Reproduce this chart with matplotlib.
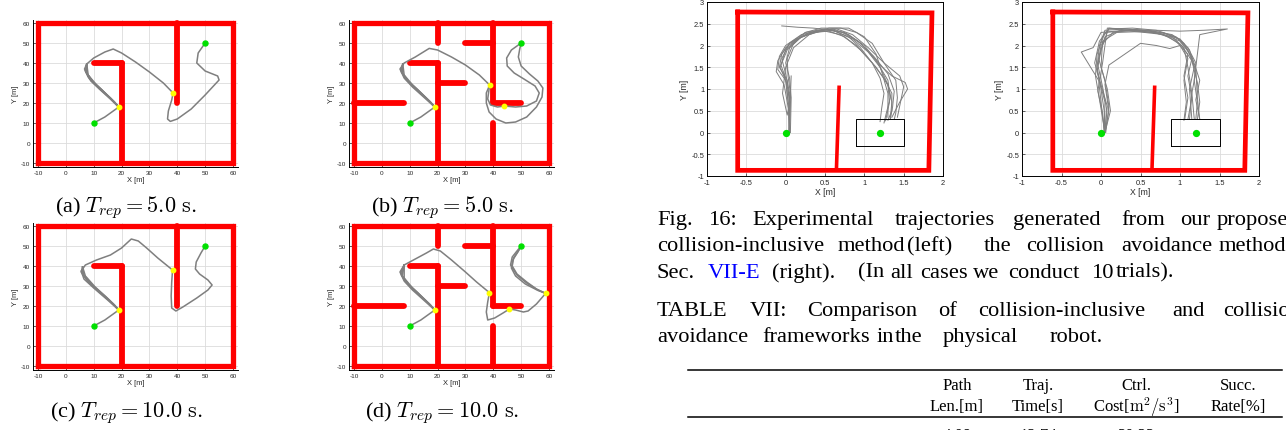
import numpy as np
import matplotlib
matplotlib.use("Agg")
import matplotlib.pyplot as plt

plt.rcParams["axes.unicode_minus"] = False
plt.rcParams["mathtext.fontset"] = "cm"

W, H = 1286, 431

# ---------------- simulation maps (left block) ----------------
walls_simple = [  # (x0, y0, x1, y1)
    (10, 40, 20, 40), (20, 40, 20, -10), (40, 60, 40, 20),
]
walls_maze = [
    (20, 60, 20, 50), (10, 40, 20, 40), (20, 40, 20, -10), (20, 30, 30, 30),
    (-10, 20, 8, 20), (30, 50, 40, 50), (40, 60, 40, 20), (40, 20, 50, 20),
    (40, 10, 40, -10),
]
border_x = [-10, 60, 60, -10, -10]
border_y = [-10, -10, 60, 60, -10]
start_xy = (10, 10)
goal_xy = (50, 50)

# (a) simple map, T_rep = 5 s
traj_a = [
    ([10, 14, 19, 16, 12, 9, 7, 7.5, 10, 14, 17, 20, 25, 30, 35, 38.5, 38, 36.8, 36.5,
      37.5, 40, 45, 50, 55, 54.5, 50, 47, 47.5, 49, 50],
     [10, 13, 18, 22, 27, 31, 36, 39.5, 42.5, 45.5, 47, 45, 40.5, 35.5, 30, 25, 21.5, 16,
      12, 10.8, 12, 17, 24, 31.5, 33.5, 36, 40, 45, 48, 50]),
    ([19, 15.5, 11.5, 8.5, 7, 7.5], [18, 23, 28, 32, 36.5, 39.5]),
    ([19, 15, 11, 8, 6.7, 7.5], [18, 23.5, 29, 33, 37, 39.5]),
    ([19, 17, 13.5, 10, 7.5, 7.5], [18, 21, 25.5, 30, 35, 39.5]),
    ([19, 16.5, 13, 9.5, 7.2, 7.5], [18, 21.5, 26.5, 31, 35.5, 39.5]),
    ([19, 17.5, 14.5, 11, 8, 7.5], [18, 20.5, 24.5, 29, 34, 39.5]),
    ([19, 16, 12, 9, 7.1, 7.5], [18, 22.5, 27.5, 31.5, 36, 39.5]),
]
hits_a = ([19, 38.5], [18, 25])

# (b) maze map, T_rep = 5 s
traj_b = [
    ([10, 14, 19, 15, 11, 8, 6.5, 8, 12, 17, 20, 25, 30, 35, 38.7, 37.5, 37.5, 38.5, 41,
      44.5, 48, 52, 55.5, 57.5, 57.8, 56, 53, 50, 49, 49.5, 50],
     [10, 13, 18, 23, 28, 32.5, 37, 40, 43, 47.3, 46.5, 43, 39, 34, 29, 25, 20, 15.5, 12,
      10, 10.5, 13, 18, 23, 27.5, 31, 34.5, 38.5, 43, 47, 50]),
    ([38.7, 38, 39, 41.5, 44, 48, 52, 55.5, 56.5, 55, 51, 47.5, 45, 44.8, 46.5, 50],
     [29, 22, 19, 18, 18.5, 18, 18.5, 21, 25, 28.5, 32, 35, 38.5, 42.5, 46.5, 50]),
    ([19, 15.5, 11.5, 8.5, 6.8, 7.5], [18, 23, 28, 32, 36.5, 39.5]),
    ([19, 17, 13.5, 10, 7.3, 7.5], [18, 21, 25.5, 30, 35, 39.5]),
    ([19, 16.5, 13, 9.5, 7, 7.5], [18, 21.5, 26.5, 31, 35.5, 39.5]),
    ([19, 17.5, 14.5, 11, 8, 7.5], [18, 20.5, 24.5, 29, 34, 39.5]),
]
hits_b = ([19, 38.7, 44], [18, 29, 18.5])

# (c) simple map, T_rep = 10 s
traj_c = [
    ([10, 14, 19, 15, 10, 6.5, 5.5, 7, 11, 16, 20, 23.5, 26, 29, 33, 38.3, 38, 37.8, 38,
      39.5, 42, 47, 51, 52.5, 51, 48, 46.5, 46.8, 48.5, 50],
     [10, 13, 18, 23, 29, 33.5, 37.5, 40.5, 43, 45.5, 49, 53.5, 52.5, 49, 44, 38, 32, 25,
      19, 17.5, 19.5, 24, 28, 30.5, 33, 36, 38.5, 42, 46.5, 50]),
    ([19, 15.5, 11, 7.5, 5.5, 6], [18, 23, 28.5, 33, 37, 39.5]),
    ([19, 16.5, 12.5, 8.5, 6, 6], [18, 21.5, 26.5, 31.5, 36, 39.5]),
    ([19, 17, 13.5, 9.5, 6.5, 6], [18, 21, 25.5, 30.5, 35.5, 39.5]),
    ([19, 17.5, 14.5, 10.5, 7, 6], [18, 20.5, 24.5, 29.5, 35, 39.5]),
]
hits_c = ([19, 38.3], [18, 38])

# (d) maze map, T_rep = 10 s
traj_d = [
    ([10, 14, 19, 15, 11, 8, 6.5, 8, 12, 16, 18.5, 21, 25, 30, 34, 38.6, 38, 37.5, 38,
      40.5, 43.5, 45.8, 48, 50.8, 52.5, 55.5, 58.8, 56, 52, 48.5, 46.2, 46.8, 48.5, 50],
     [10, 13, 18, 23, 28, 32.5, 37, 40.5, 43.5, 46.5, 48.5, 47.5, 43, 37, 32, 26.7, 22,
      17, 13, 14, 16.5, 18.5, 18, 17, 17.5, 21, 26.3, 28, 31.5, 35.5, 40.5, 44.5, 47.5, 50]),
    ([58.8, 55.5, 52, 48.5, 46.8, 47.3, 49, 50], [26.3, 28.5, 32, 36, 40, 44, 47.5, 50]),
    ([58.8, 56, 51.5, 48, 46.5, 47, 48.8, 50], [26.3, 27.8, 31, 35, 39, 43, 47, 50]),
    ([19, 15.5, 11.5, 8.5, 6.8, 8], [18, 23, 28, 32, 36.5, 40.5]),
    ([19, 17, 13.5, 10, 7.3, 8], [18, 21, 25.5, 30, 35, 40.5]),
    ([19, 16.5, 13, 9.5, 7, 8], [18, 21.5, 26.5, 31, 35.5, 40.5]),
    ([19, 17.5, 14.5, 11, 8, 8], [18, 20.5, 24.5, 29, 34, 40.5]),
]
hits_d = ([19, 38.6, 45.8, 58.8], [18, 26.7, 18.5, 26.3])

sim_ticks = [-10, 0, 10, 20, 30, 40, 50, 60]
sim_captions = [r"(a) $T_{rep} = 5.0\ \mathrm{s.}$", r"(b) $T_{rep} = 5.0\ \mathrm{s.}$",
                r"(c) $T_{rep} = 10.0\ \mathrm{s.}$", r"(d) $T_{rep} = 10.0\ \mathrm{s.}$"]

# ---------------- physical robot (right block) ----------------
room_x = [-0.61, 1.86, 1.82, -0.61, -0.61]
room_y = [2.77, 2.75, -0.87, -0.87, 2.77]
inner_wall_x = [0.68, 0.645]
inner_wall_y = [1.08, -0.87]
goal_box_x = [0.89, 1.51, 1.51, 0.89, 0.89]
goal_box_y = [-0.32, -0.32, 0.31, 0.31, -0.32]
robot_pts_x = [0.0, 1.2]
robot_pts_y = [0.0, 0.0]

# collision-inclusive, 10 trials
trials_incl = [
    ([0.04, 0.05, 0.02, -0.08, -0.05, 0.05, 0.25, 0.5, 0.75, 0.95, 1.15, 1.3, 1.33, 1.28, 1.25],
     [0.0, 0.6, 1.2, 1.5, 1.8, 2.05, 2.3, 2.38, 2.3, 2.05, 1.65, 1.2, 0.8, 0.45, 0.22]),
    ([0.05, 0.03, 0.0, -0.1, -0.08, 0.0, 0.2, 0.45, 0.7, 0.9, 1.1, 1.25, 1.35, 1.35, 1.3],
     [0.0, 0.7, 1.2, 1.45, 1.75, 2.0, 2.25, 2.35, 2.25, 2.0, 1.6, 1.25, 0.9, 0.5, 0.28]),
    ([0.06, 0.07, 0.05, 0.0, 0.05, 0.2, 0.4, 0.65, 0.85, 1.05, 1.25, 1.4, 1.42, 1.4, 1.38],
     [0.0, 0.8, 1.25, 1.6, 1.95, 2.2, 2.35, 2.38, 2.25, 1.95, 1.6, 1.2, 0.8, 0.45, 0.3]),
    ([0.05, 0.05, 0.0, -0.05, 0.05, 0.3, 0.6, 0.8, 1.0, 1.2, 1.35, 1.52, 1.55, 1.45, 1.35],
     [0.0, 0.9, 1.35, 1.7, 2.05, 2.3, 2.38, 2.25, 2.0, 1.55, 1.3, 1.15, 1.0, 0.7, 0.35]),
    ([-0.05, 0.15, 0.35, 0.6, 0.8, 0.95, 1.1, 1.2, 1.25, 1.22, 1.2],
     [2.45, 2.42, 2.4, 2.35, 2.2, 1.95, 1.6, 1.25, 0.9, 0.55, 0.25]),
    ([0.07, 0.06, 0.02, -0.04, 0.0, 0.1, 0.3, 0.55, 0.8, 1.0, 1.15, 1.22, 1.3, 1.3],
     [1.3, 0.8, 0.4, 0.9, 1.5, 1.95, 2.25, 2.4, 2.4, 2.2, 1.8, 1.4, 0.9, 0.35]),
    ([0.05, 0.04, -0.02, -0.12, -0.1, 0.0, 0.15, 0.35, 0.55, 0.75, 0.95, 1.15, 1.3, 1.35, 1.33],
     [0.0, 0.5, 1.1, 1.4, 1.65, 1.95, 2.15, 2.3, 2.33, 2.2, 1.9, 1.5, 1.1, 0.7, 0.32]),
    ([0.05, 0.06, 0.03, 0.02, 0.1, 0.25, 0.45, 0.7, 0.9, 1.1, 1.25, 1.45, 1.5, 1.42],
     [0.0, 0.9, 1.3, 1.7, 2.05, 2.3, 2.4, 2.4, 2.3, 2.05, 1.6, 1.3, 1.05, 0.35]),
    ([0.04, 0.06, 0.01, -0.07, 0.0, 0.15, 0.35, 0.6, 0.85, 1.05, 1.2, 1.3, 1.32, 1.27],
     [0.0, 0.7, 1.15, 1.5, 1.9, 2.15, 2.3, 2.35, 2.15, 1.85, 1.5, 1.1, 0.7, 0.27]),
    ([0.05, 0.04, 0.0, -0.06, 0.02, 0.2, 0.5, 0.72, 0.92, 1.12, 1.3, 1.38, 1.36, 1.33],
     [0.0, 0.6, 1.25, 1.55, 1.9, 2.2, 2.36, 2.3, 2.1, 1.75, 1.35, 0.95, 0.6, 0.3]),
]

# collision avoidance, 10 trials
trials_avoid = [
    ([0.05, 0.04, 0.0, -0.05, -0.02, 0.05, 0.3, 0.6, 0.9, 1.05, 1.15, 1.1, 1.15, 1.1],
     [0.0, 0.5, 1.0, 1.5, 2.0, 2.35, 2.38, 2.35, 2.25, 2.05, 1.7, 1.3, 0.8, 0.3]),
    ([0.05, 0.08, 0.0, -0.08, -0.02, 0.1, 0.4, 0.7, 0.95, 1.1, 1.2, 1.18, 1.22, 1.2],
     [0.0, 0.6, 1.1, 1.6, 2.1, 2.38, 2.4, 2.35, 2.2, 1.95, 1.6, 1.2, 0.7, 0.3]),
    ([0.05, 0.02, -0.03, -0.25, -0.1, 0.0, 0.3, 0.7, 1.0, 1.3, 1.6, 1.25, 1.2, 1.22, 1.25],
     [0.0, 0.38, 1.2, 1.85, 1.95, 2.3, 2.35, 2.35, 2.33, 2.35, 2.38, 2.25, 1.5, 0.8, 0.3]),
    ([0.05, 0.1, 0.05, 0.1, 0.3, 0.5, 0.7, 0.87, 1.0, 1.1, 1.05, 1.08, 1.05],
     [0.0, 0.5, 1.1, 1.55, 1.8, 2.05, 2.0, 1.93, 2.0, 1.7, 1.2, 0.7, 0.28]),
    ([0.04, 0.05, -0.05, 0.0, 0.1, 0.35, 0.65, 0.9, 1.05, 1.1, 1.15, 1.12],
     [0.0, 0.7, 1.4, 1.9, 2.4, 2.35, 2.3, 2.2, 1.95, 1.5, 0.9, 0.3]),
    ([0.06, 0.1, 0.05, -0.03, 0.05, 0.25, 0.55, 0.8, 1.0, 1.15, 1.25, 1.2, 1.25],
     [0.0, 0.6, 1.2, 1.7, 2.2, 2.35, 2.3, 2.25, 2.1, 1.75, 1.2, 0.75, 0.3]),
    ([0.05, 0.0, -0.07, -0.05, 0.05, 0.4, 0.75, 0.95, 1.1, 1.05, 1.1, 1.06],
     [0.0, 0.55, 1.3, 1.8, 2.3, 2.35, 2.28, 2.1, 1.8, 1.3, 0.8, 0.3]),
    ([0.05, 0.12, 0.08, 0.0, 0.02, 0.2, 0.5, 0.8, 1.0, 1.12, 1.2, 1.15, 1.18],
     [0.0, 0.5, 1.0, 1.5, 2.1, 2.3, 2.32, 2.28, 2.15, 1.9, 1.4, 0.9, 0.32]),
    ([0.04, 0.02, -0.04, 0.02, 0.08, 0.3, 0.62, 0.85, 1.02, 1.15, 1.22, 1.25, 1.22],
     [0.0, 0.45, 0.95, 1.6, 2.4, 2.38, 2.33, 2.2, 2.0, 1.65, 1.15, 0.7, 0.3]),
    ([0.05, 0.07, 0.02, -0.04, 0.0, 0.15, 0.45, 0.78, 0.98, 1.1, 1.18, 1.12, 1.15],
     [0.0, 0.55, 1.05, 1.55, 2.0, 2.3, 2.36, 2.3, 2.15, 1.9, 1.5, 1.0, 0.3]),
]
robot_ticks_x = [-1, -0.5, 0, 0.5, 1, 1.5, 2]
robot_ticks_y = [-1, -0.5, 0, 0.5, 1, 1.5, 2, 2.5, 3]

# table header
tab_cols = [("Path", "Len.[m]"), ("Traj.", "Time[s]"),
            ("Ctrl.", r"Cost[$\mathrm{m}^2/\mathrm{s}^3$]"), ("Succ.", "Rate[%]")]
tab_first_row = ["4.09", "12.74", "30.33"]

GRAY = "#7f7f7f"
INK = "#262626"
SERIF = "Liberation Serif"
SANS = "Liberation Sans"


def px_axes(fig, l, t, r, b):
    return fig.add_axes([l / W, 1 - b / H, (r - l) / W, (b - t) / H])


def ftext(fig, x, y, s, **kw):
    kw.setdefault("va", "center")
    return fig.text(x / W, 1 - y / H, s, **kw)


def style_axes(ax, ticks_x, ticks_y, fs, box):
    ax.set_xticks(ticks_x)
    ax.set_yticks(ticks_y)
    ax.set_xticklabels([f"{v:g}" for v in ticks_x])
    ax.set_yticklabels([f"{v:g}" for v in ticks_y])
    ax.tick_params(direction="in", length=2, width=0.5, labelsize=fs, colors=INK, pad=2)
    ax.grid(True, color="#dcdcdc", lw=0.6)
    ax.set_axisbelow(True)
    for side, sp in ax.spines.items():
        sp.set_color("black")
        sp.set_linewidth(0.7)
        if not box and side in ("top", "right"):
            sp.set_visible(False)
    for lab in ax.get_xticklabels() + ax.get_yticklabels():
        lab.set_fontfamily(SANS)


def draw_sim(ax, walls, trajs, hits):
    ax.plot(border_x, border_y, color="red", lw=3.8, solid_joinstyle="miter")
    for x0, y0, x1, y1 in walls:
        ax.plot([x0, x1], [y0, y1], color="red", lw=4.2, solid_capstyle="round")
    for tx, ty in trajs:
        ax.plot(tx, ty, color=GRAY, lw=1.1)
    ax.plot(*zip(start_xy, goal_xy), ls="none", marker="o", ms=3.6, color="#00e000")
    ax.plot(hits[0], hits[1], ls="none", marker="o", ms=3.2, color="#ffff00")
    ax.set_xlim(-11.8, 61.8)
    ax.set_ylim(-12, 61.5)
    style_axes(ax, sim_ticks, sim_ticks, 4.6, box=False)
    ax.set_xlabel("X [m]", fontsize=5.4, family=SANS, color=INK, labelpad=1)
    ax.set_ylabel("Y [m]", fontsize=5.4, family=SANS, color=INK, labelpad=1)


def draw_robot(ax, trials):
    ax.plot(room_x, room_y, color="red", lw=3.4, solid_joinstyle="miter")
    ax.plot(inner_wall_x, inner_wall_y, color="red", lw=2.6, solid_capstyle="butt")
    for tx, ty in trials:
        ax.plot(tx, ty, color=GRAY, lw=0.7)
    ax.plot(goal_box_x, goal_box_y, color="black", lw=0.7)
    ax.plot(robot_pts_x, robot_pts_y, ls="none", marker="o", ms=4.2, color="#00e000")
    ax.set_xlim(-1, 2)
    ax.set_ylim(-1, 3)
    style_axes(ax, robot_ticks_x, robot_ticks_y, 5.4, box=True)
    ax.set_xlabel("X [m]", fontsize=6.2, family=SANS, color=INK, labelpad=1)
    ax.set_ylabel("Y [m]", fontsize=6.2, family=SANS, color=INK, labelpad=2)


fig = plt.figure(figsize=(W / 100, H / 100), dpi=100)

sim_boxes = [(33, 21, 238, 168), (349, 21, 554, 168), (33, 224, 238, 371), (349, 224, 554, 371)]
sim_maps = [(walls_simple, traj_a, hits_a), (walls_maze, traj_b, hits_b),
            (walls_simple, traj_c, hits_c), (walls_maze, traj_d, hits_d)]
cap_pos = [(126, 208), (443, 208), (126, 413), (442, 413)]
for box, (walls, trajs, hits), cap, (cx, cy) in zip(sim_boxes, sim_maps, sim_captions, cap_pos):
    ax = px_axes(fig, *box)
    draw_sim(ax, walls, trajs, hits)
    ftext(fig, cx, cy, cap, ha="center", fontsize=16, family=SERIF)

draw_robot(px_axes(fig, 707, 3, 943, 177), trials_incl)
draw_robot(px_axes(fig, 1022, 3, 1259, 177), trials_avoid)

# caption of Fig. 16 and table title (justified words, clipped at page edge)
caption_lines = [
    (221, [(657, "Fig."), (708, "16:"), (752, "Experimental"), (895, "trajectories"),
           (1013, "generated"), (1121, "from"), (1180, "our"), (1217, "proposed")]),
    (247, [(657, "collision-inclusive"), (838, "method"), (907, "(left)"), (984, "the"),
           (1026, "collision"), (1121, "avoidance"), (1219, "method")]),
    (273, [(657, "Sec."), (708, "VII-E"), (772, "(right)."), (858, "(In"), (890, "all"),
           (920, "cases"), (973, "we"), (1008, "conduct"), (1091, "10"), (1116, "trials).")]),
    (312, [(657, "TABLE"), (750, "VII:"), (807, "Comparison"), (938, "of"),
           (978, "collision-inclusive"), (1172, "and"), (1223, "collision")]),
    (338, [(657, "avoidance"), (762, "frameworks"), (877, "in"), (895, "the"),
           (943, "physical"), (1050, "robot.")]),
]
for y, words in caption_lines:
    for x, w in words:
        ftext(fig, x, y, w, ha="left", fontsize=16.2, family=SERIF,
              color="#0000ff" if w == "VII-E" else "black")

# table header
fig.add_artist(plt.Line2D([688 / W, 1282 / W], [1 - 371 / H] * 2, color="black", lw=1.1))
fig.add_artist(plt.Line2D([688 / W, 1282 / W], [1 - 418 / H] * 2, color="black", lw=1.1))
col_x = [957, 1038, 1136, 1238]
for cx, (top, bot) in zip(col_x, tab_cols):
    ftext(fig, cx, 386, top, ha="center", fontsize=12, family=SERIF)
    ftext(fig, cx, 407, bot, ha="center", fontsize=12, family=SERIF)
for cx, v in zip(col_x, tab_first_row):
    ftext(fig, cx, 436, v, ha="center", fontsize=12, family=SERIF)

fig.savefig("out.png", dpi=100)
